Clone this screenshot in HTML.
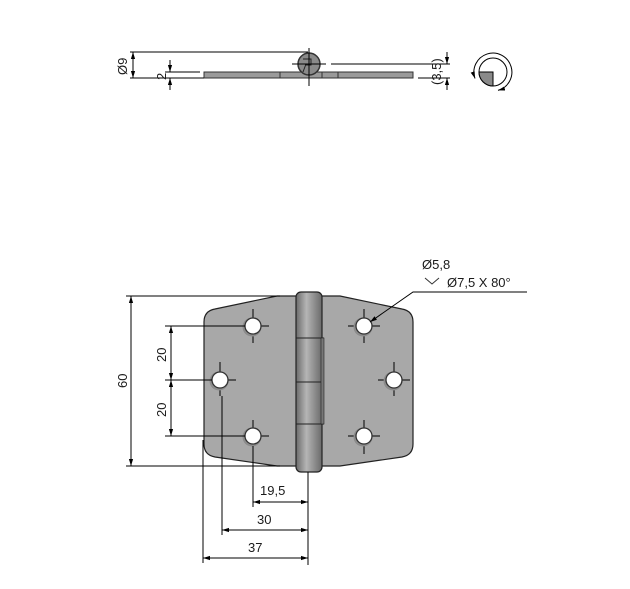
<!DOCTYPE html>
<html><head><meta charset="utf-8"><style>
html,body{margin:0;padding:0;background:#fff}
svg{display:block}
text{font-family:"Liberation Sans",sans-serif;font-size:13px;fill:#1a1a1a}
</style></head><body>
<svg width="630" height="589" viewBox="0 0 630 589" xmlns="http://www.w3.org/2000/svg">
<defs>
<marker id="a" viewBox="0 0 10 10" refX="10" refY="5" markerWidth="7" markerHeight="7" orient="auto-start-reverse"><path d="M0,2 L10,5 L0,8 z" fill="#000"/></marker>
<linearGradient id="pg" x1="0" x2="1"><stop offset="0" stop-color="#6a6a6a"/><stop offset="0.4" stop-color="#b5b5b5"/><stop offset="1" stop-color="#6a6a6a"/></linearGradient>
</defs>
<g stroke="#000" stroke-width="1" fill="none">
<!-- TOP VIEW -->
<rect x="204" y="72" width="209" height="6" fill="#9a9a9a" stroke="#333"/>
<line x1="280" y1="72" x2="280" y2="78" stroke="#333"/>
<line x1="322" y1="72" x2="322" y2="78" stroke="#333"/>
<line x1="338" y1="72" x2="338" y2="78" stroke="#333"/>
<circle cx="309" cy="64" r="11" fill="#8a8a8a" stroke="#333" stroke-width="1.5"/>
<path d="M303,59 h8 v6 h-6 M306,64 l-3,8" stroke="#222"/>
<line x1="309" y1="48" x2="309" y2="86"/>
<line x1="292" y1="64" x2="326" y2="64"/>
<line x1="130" y1="52" x2="308" y2="52"/>
<line x1="130" y1="78" x2="204" y2="78"/>
<line x1="133" y1="52" x2="133" y2="78" marker-start="url(#a)" marker-end="url(#a)"/>
<line x1="165" y1="72" x2="200" y2="72"/>
<line x1="170" y1="60" x2="170" y2="72" marker-end="url(#a)"/>
<line x1="170" y1="90" x2="170" y2="78" marker-end="url(#a)"/>
<line x1="331" y1="64" x2="450" y2="64"/>
<line x1="418" y1="78" x2="450" y2="78"/>
<line x1="447" y1="52" x2="447" y2="64" marker-end="url(#a)"/>
<line x1="447" y1="90" x2="447" y2="78" marker-end="url(#a)"/>
<!-- rotation icon -->
<circle cx="493" cy="72" r="14"/>
<path d="M479,72 A14,14 0 0 0 493,86 V72 z" fill="#8a8a8a"/>
<path d="M493,72 h-14 M493,72 v14"/>
<path d="M475,78.5 A19,19 0 1 1 498,90.4" marker-start="url(#a)" marker-end="url(#a)"/>
<!-- FRONT VIEW plates -->
<path d="M215,309 L277,296 L298,296 L298,466 L277,466 L215,457 Q204,455 204,444 L204,322 Q204,311 215,309 z" fill="#a8a8a8" stroke="#222" stroke-width="1.2"/>
<path d="M402,309 L340,296 L320,296 L320,466 L340,466 L402,457 Q413,455 413,444 L413,322 Q413,311 402,309 z" fill="#a8a8a8" stroke="#222" stroke-width="1.2"/>
<rect x="296" y="292" width="26" height="180" rx="5" fill="url(#pg)" stroke="#222" stroke-width="1.2"/>
<line x1="296" y1="338" x2="324" y2="338" stroke="#222"/>
<line x1="296" y1="382" x2="324" y2="382" stroke="#222"/>
<line x1="296" y1="424" x2="324" y2="424" stroke="#222"/>
<rect x="321" y="338" width="3" height="86" fill="#777" stroke="#222" stroke-width="0.6"/>
<!-- crosshairs -->
<g stroke="#000">
<path d="M238,326h31 M253,309v34 M364,309v34 M348,326h32"/>
<path d="M220,362v34 M204,380h32 M394,362v34 M378,380h32"/>
<path d="M238,436h31 M253,420v26 M348,436h32 M364,420v34"/>
</g>
<!-- holes -->
<g fill="#8c8c8c" stroke="none">
<circle cx="252" cy="327" r="9.5"/><circle cx="219" cy="381" r="9.5"/><circle cx="252" cy="437" r="9.5"/>
<circle cx="363" cy="327" r="9.5"/><circle cx="393" cy="381" r="9.5"/><circle cx="363" cy="437" r="9.5"/>
</g>
<g fill="#fff" stroke="#333" stroke-width="1.3">
<circle cx="253" cy="326" r="8"/><circle cx="220" cy="380" r="8"/><circle cx="253" cy="436" r="8"/>
<circle cx="364" cy="326" r="8"/><circle cx="394" cy="380" r="8"/><circle cx="364" cy="436" r="8"/>
</g>
<!-- vertical dims -->
<line x1="126" y1="296" x2="280" y2="296"/>
<line x1="126" y1="466" x2="280" y2="466"/>
<line x1="131" y1="296" x2="131" y2="466" marker-start="url(#a)" marker-end="url(#a)"/>
<line x1="165" y1="326" x2="245" y2="326"/>
<line x1="165" y1="380" x2="212" y2="380"/>
<line x1="165" y1="436" x2="245" y2="436"/>
<line x1="171" y1="326" x2="171" y2="380" marker-start="url(#a)" marker-end="url(#a)"/>
<line x1="171" y1="380" x2="171" y2="436" marker-start="url(#a)" marker-end="url(#a)"/>
<!-- horizontal dims -->
<line x1="203" y1="440" x2="203" y2="563"/>
<line x1="222" y1="396" x2="222" y2="535"/>
<line x1="253" y1="446" x2="253" y2="507"/>
<line x1="308" y1="472" x2="308" y2="565"/>
<line x1="253" y1="502" x2="308" y2="502" marker-start="url(#a)" marker-end="url(#a)"/>
<line x1="222" y1="530" x2="308" y2="530" marker-start="url(#a)" marker-end="url(#a)"/>
<line x1="203" y1="558" x2="308" y2="558" marker-start="url(#a)" marker-end="url(#a)"/>
<!-- leader -->
<path d="M527,292 H413 L370,322" marker-end="url(#a)"/>
<path d="M425,278 l7,6 l7,-6" stroke="#333"/>
</g>
<text x="422" y="269">Ø5,8</text>
<text x="447" y="287">Ø7,5 X 80°</text>
<text x="260" y="495">19,5</text>
<text x="257" y="524">30</text>
<text x="248" y="552">37</text>
<text transform="translate(127,388) rotate(-90)">60</text>
<text transform="translate(166,362) rotate(-90)">20</text>
<text transform="translate(166,417) rotate(-90)">20</text>
<text transform="translate(127,75) rotate(-90)">Ø9</text>
<text transform="translate(166,80) rotate(-90)">2</text>
<text transform="translate(441,85) rotate(-90)">(3,5)</text>
</svg>
</body></html>
